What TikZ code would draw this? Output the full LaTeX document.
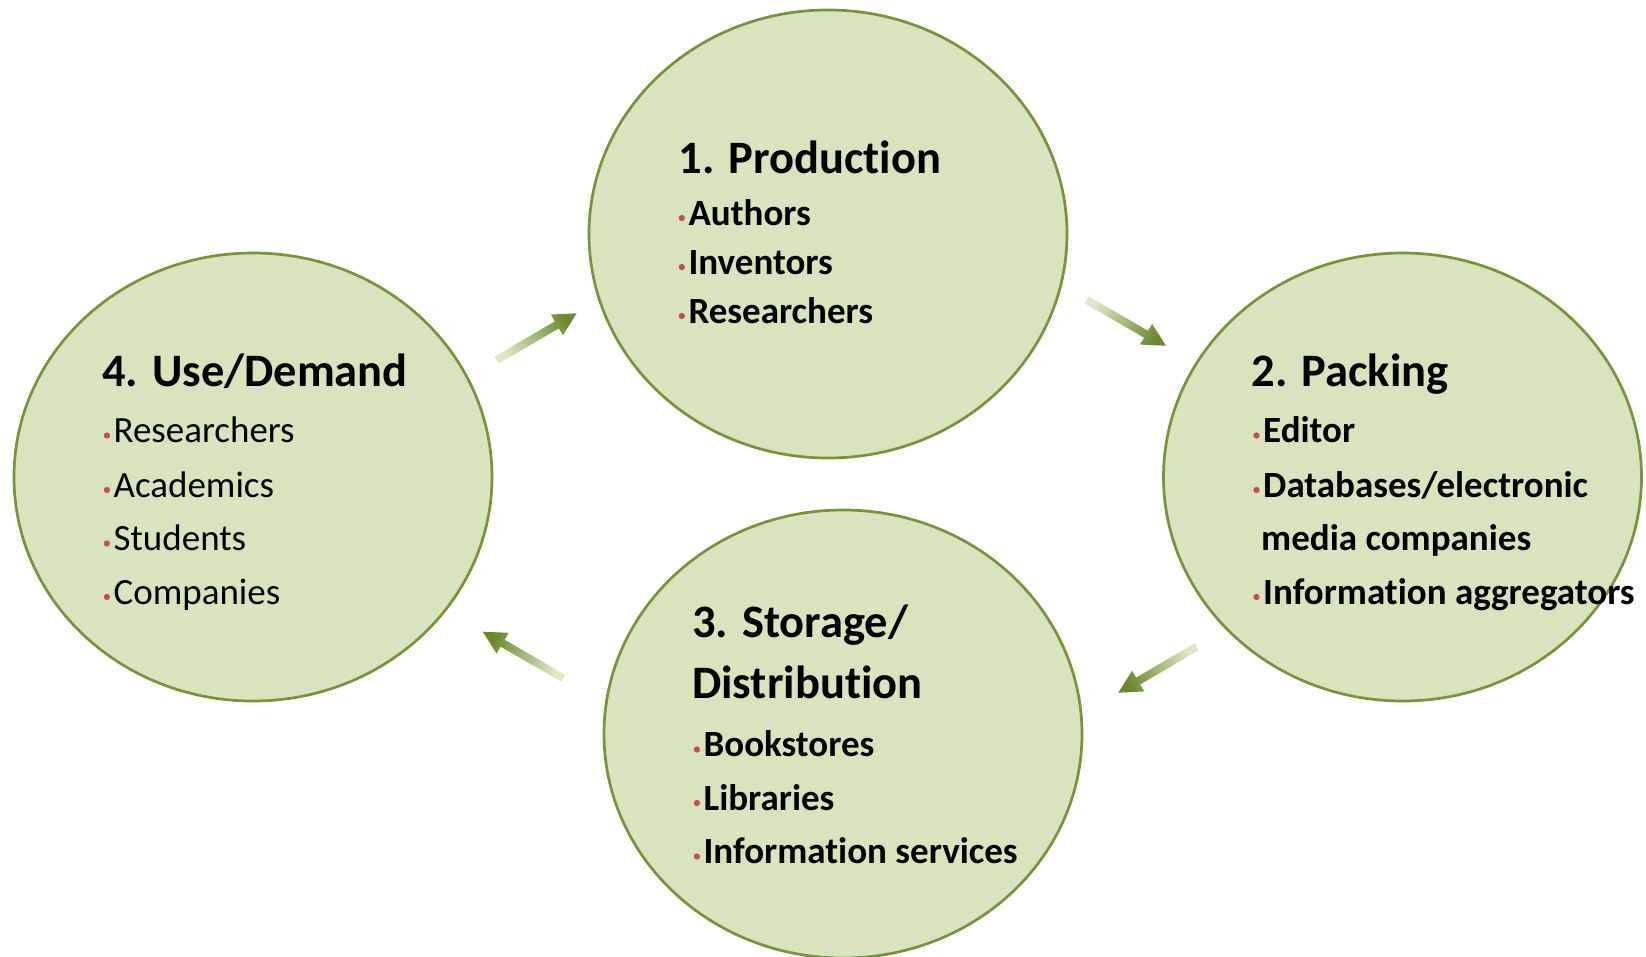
\documentclass[tikz,border=0pt]{standalone}
\usepackage{fontspec}
\setmainfont[Ligatures=NoCommon]{Carlito}
\usetikzlibrary{calc,shapes.geometric}
\definecolor{ellfill}{HTML}{D7E4BD}
\definecolor{elldraw}{HTML}{77933C}
\definecolor{arrdark}{HTML}{6B8A2F}
\definecolor{arrlight}{HTML}{DCE8C6}
\definecolor{bulletred}{HTML}{C0504D}
\tikzset{
 stage/.style={ellipse, fill=ellfill, draw=elldraw, line width=2.7pt, minimum width=478pt, minimum height=448pt, inner sep=0pt},
 title/.style={anchor=base west, inner sep=0pt, font=\fontsize{46.5}{50}\selectfont\bfseries},
 item/.style={anchor=base west, inner sep=0pt, font=\fontsize{37}{40}\selectfont\bfseries},
 itemreg/.style={anchor=base west, inner sep=0pt, font=\fontsize{37}{40}\selectfont},
 bdot/.style={circle, fill=bulletred, inner sep=0pt, minimum size=6.3pt},
}
\newcommand{\bulletitem}[5]{%
 \node[#4] (#1) at (#2,-#3) {#5};
 \node[bdot] (#1-dot) at ($(#1.base west)+(-6.5,7)$) {};
}
\newcommand{\blockarrow}[3]{%
 \coordinate (#1-b) at ($(#2)!23pt!(#1)$);
 \shade[top color=arrdark, bottom color=arrlight, shading angle=#3]
  ($(#1)!4pt!90:(#2)$) -- ($(#1-b)!4pt!90:(#2)$) -- ($(#1-b)!12pt!90:(#2)$) --
  (#2) -- ($(#1-b)!12pt!-90:(#2)$) -- ($(#1-b)!4pt!-90:(#2)$) -- ($(#1)!4pt!-90:(#2)$) -- cycle;
}
\begin{document}
\begin{tikzpicture}[x=1pt,y=1pt]
\useasboundingbox (0,0) rectangle (1646,-956);
\clip (0,0) rectangle (1646,-956);
\fill[white] (0,0) rectangle (1646,-956);

% stages
\node[stage] (prod) at (828,-234) {};
\node[stage] (pack) at (1402.5,-477) {};
\node[stage] (stor) at (843,-734) {};
\node[stage] (use) at (253,-477) {};

% 1. Production
\node[title] (prod-t) at (678.5,-173.3) {1. Production};
\bulletitem{p1}{688.3}{225}{item}{Authors}
\bulletitem{p2}{688.3}{274}{item}{Inventors}
\bulletitem{p3}{688.3}{323}{item}{Researchers}

% 2. Packing
\node[title] (pack-t) at (1251.5,-386.3) {2. Packing};
\bulletitem{k1}{1263}{442.5}{item}{Editor}
\bulletitem{k2}{1263}{497}{item}{Databases/electronic}
\node[item] (k2b) at (1261,-550.5) {media companies};
\bulletitem{k3}{1263}{604}{item}{Information aggregators}

% 3. Storage/Distribution
\node[title] (stor-t1) at (692,-637.2) {3. Storage/};
\node[title] (stor-t2) at (692,-698.1) {Distribution};
\bulletitem{s1}{703.4}{756.5}{item}{Bookstores}
\bulletitem{s2}{703.4}{810}{item}{Libraries}
\bulletitem{s3}{703.4}{863.5}{item}{Information services}

% 4. Use/Demand
\node[title] (use-t) at (102,-386.3) {4. Use/Demand};
\bulletitem{u1}{113.4}{442.5}{itemreg}{Researchers}
\bulletitem{u2}{113.4}{497}{itemreg}{Academics}
\bulletitem{u3}{113.4}{550.5}{itemreg}{Students}
\bulletitem{u4}{113.4}{604}{itemreg}{Companies}

% arrows
\coordinate (t1) at (496.7,-360);   \coordinate (h1) at (576.7,-313.3);
\coordinate (t2) at (1086.7,-300);  \coordinate (h2) at (1166,-345.7);
\coordinate (t3) at (1196.7,-646.7); \coordinate (h3) at (1118.3,-692.7);
\coordinate (t4) at (563.3,-678.3); \coordinate (h4) at (482.7,-631.7);
\blockarrow{t1}{h1}{-59.7}
\blockarrow{t2}{h2}{-120}
\blockarrow{t3}{h3}{120.4}
\blockarrow{t4}{h4}{60}
\end{tikzpicture}
\end{document}
